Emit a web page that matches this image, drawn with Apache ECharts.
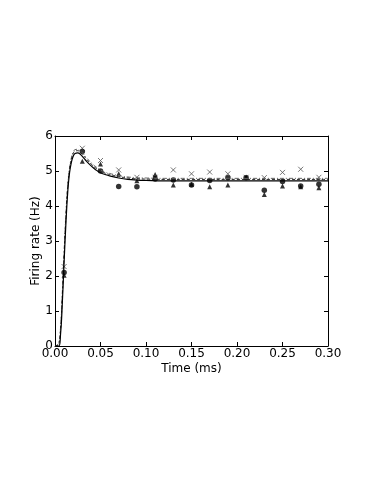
<!DOCTYPE html>
<html>
<head>
<meta charset="utf-8">
<script src="https://cdn.jsdelivr.net/npm/echarts@6/dist/echarts.min.js"></script>
<style>
html, body { margin: 0; padding: 0; background: #fff; }
#chart { width: 374px; height: 484px; }
</style>
</head>
<body>
<div id="chart"></div>
<script>
// sample times (ms)
var sampleT = [0.01, 0.03, 0.05, 0.07, 0.09, 0.11, 0.13, 0.15, 0.17, 0.19, 0.21, 0.23, 0.25, 0.27, 0.29];
var dots = [2.10, 5.56, 5.00, 4.56, 4.55, 4.77, 4.74, 4.60, 4.73, 4.81, 4.81, 4.45, 4.70, 4.57, 4.62];
var triangles = [2.02, 5.28, 5.20, 4.92, 4.72, 4.90, 4.60, 4.62, 4.55, 4.60, 4.83, 4.33, 4.57, 4.55, 4.52];
var crosses = [2.27, 5.65, 5.30, 5.03, 4.82, 4.82, 5.03, 4.92, 4.97, 4.92, 4.82, 4.81, 4.96, 5.05, 4.82];

// model curves
var curveT = [0, 0.004, 0.006, 0.008, 0.010, 0.012, 0.014, 0.016, 0.018, 0.020, 0.022, 0.025, 0.028, 0.030, 0.035, 0.040, 0.045, 0.050, 0.055, 0.060, 0.070, 0.080, 0.090, 0.100, 0.120, 0.150, 0.200, 0.300];
var curveSolid = [0, 0, 0.3, 1.2, 2.4, 3.5, 4.4, 4.95, 5.25, 5.42, 5.50, 5.52, 5.47, 5.42, 5.27, 5.14, 5.03, 4.95, 4.90, 4.86, 4.80, 4.76, 4.74, 4.73, 4.72, 4.72, 4.72, 4.72];
var curveDash = [0, 0.05, 0.45, 1.4, 2.6, 3.7, 4.55, 5.05, 5.33, 5.50, 5.57, 5.58, 5.53, 5.48, 5.33, 5.19, 5.08, 5.00, 4.94, 4.90, 4.84, 4.80, 4.78, 4.77, 4.76, 4.76, 4.76, 4.76];
var curveDashDot = [0, 0.08, 0.5, 1.5, 2.7, 3.8, 4.6, 5.1, 5.38, 5.54, 5.61, 5.62, 5.57, 5.52, 5.37, 5.23, 5.12, 5.03, 4.97, 4.93, 4.87, 4.83, 4.81, 4.80, 4.79, 4.79, 4.79, 4.79];

var xTicks = [0, 0.05, 0.10, 0.15, 0.20, 0.25, 0.30];
var yTicks = [0, 1, 2, 3, 4, 5, 6];

function pairs(xs, ys) {
    return xs.map(function (x, i) { return [x, ys[i]]; });
}

var font = 'DejaVu Sans';
var myChart = echarts.init(document.getElementById('chart'));

var crossPath = 'path://M0,0L10,10M10,0L0,10';

var frameLine = { show: true, onZero: false, lineStyle: { color: '#000', width: 1 } };
var frameTick = { show: true, inside: true, length: 4, lineStyle: { color: '#000' } };

option = {
    animation: false,
    backgroundColor: '#fff',
    textStyle: { fontFamily: font },
    grid: { left: 55, right: 46, top: 136, bottom: 138 },
    xAxis: [
        {
            type: 'value', min: 0, max: 0.30, interval: 0.05,
            name: 'Time (ms)', nameLocation: 'middle', nameGap: 17,
            nameTextStyle: { fontSize: 12, color: '#000', fontFamily: font },
            axisLine: frameLine,
            axisTick: frameTick,
            axisLabel: { fontSize: 12, color: '#000', margin: 2, fontFamily: font,
                formatter: function (v) { return v.toFixed(2); } },
            splitLine: { show: false }
        },
        {
            type: 'value', min: 0, max: 0.30, interval: 0.05, position: 'top',
            axisLine: frameLine,
            axisTick: frameTick,
            axisLabel: { show: false },
            splitLine: { show: false }
        }
    ],
    yAxis: [
        {
            type: 'value', min: 0, max: 6, interval: 1,
            name: 'Firing rate (Hz)', nameLocation: 'middle', nameGap: 13,
            nameMoveOverlap: false,
            nameTextStyle: { fontSize: 12, color: '#000', fontFamily: font },
            axisLine: frameLine,
            axisTick: frameTick,
            axisLabel: { fontSize: 12, color: '#000', margin: 2, fontFamily: font },
            splitLine: { show: false }
        },
        {
            type: 'value', min: 0, max: 6, interval: 1, position: 'right',
            axisLine: frameLine,
            axisTick: frameTick,
            axisLabel: { show: false },
            splitLine: { show: false }
        }
    ],
    series: [
        {
            name: 'model dash-dot', type: 'line', showSymbol: false, smooth: true,
            data: pairs(curveT, curveDashDot),
            lineStyle: { color: '#666', width: 1, type: [4, 2, 1, 2] }
        },
        {
            name: 'model dashed', type: 'line', showSymbol: false, smooth: true,
            data: pairs(curveT, curveDash),
            lineStyle: { color: '#222', width: 1, type: [3, 2] }
        },
        {
            name: 'model', type: 'line', showSymbol: false, smooth: true,
            data: pairs(curveT, curveSolid),
            lineStyle: { color: '#000', width: 1.2 }
        },
        {
            name: 'crosses', type: 'scatter', symbol: crossPath, symbolSize: 5,
            data: pairs(sampleT, crosses),
            itemStyle: { color: 'transparent', borderColor: '#555', borderWidth: 1 }
        },
        {
            name: 'triangles', type: 'scatter', symbol: 'triangle', symbolSize: 5,
            data: pairs(sampleT, triangles),
            itemStyle: { color: '#000' }
        },
        {
            name: 'dots', type: 'scatter', symbol: 'circle', symbolSize: 5.5,
            data: pairs(sampleT, dots),
            itemStyle: { color: '#000' }
        }
    ]
};

myChart.setOption(option);
</script>
</body>
</html>
